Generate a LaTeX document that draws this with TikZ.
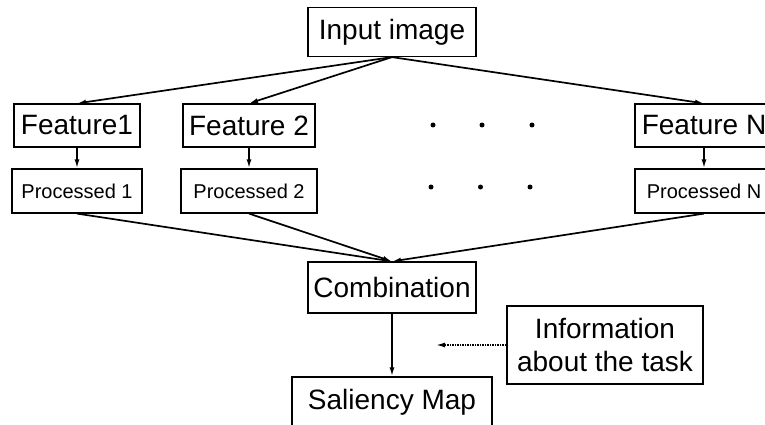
\documentclass[tikz,border=0pt]{standalone}
\usepackage{fontspec}
\setmainfont{Liberation Sans}
\usetikzlibrary{arrows.meta}
\begin{document}
\begin{tikzpicture}[x=1pt,y=-1pt,
  box/.style={draw,line width=1.2pt,inner sep=0pt,align=center,font=\fontsize{28}{33}\selectfont},
  small/.style={draw,line width=1.2pt,inner sep=0pt,align=center,font=\fontsize{20}{24}\selectfont},
  arr/.style={line width=1.7pt,-{Latex[length=9pt,width=5pt]}},
  darr/.style={line width=1.5pt,densely dotted,-{Latex[length=9pt,width=5pt]}},
  dot/.style={circle,fill,inner sep=0pt,minimum size=5pt}]
\useasboundingbox (0,0) rectangle (765,425);
\clip (0,0) rectangle (765,425);
\node[box,minimum width=168pt,minimum height=49pt] (in) at (392,32) {Input image};
\node[box,minimum width=126pt,minimum height=43pt] (f1) at (77,125.5) {Feature1};
\node[box,minimum width=132pt,minimum height=43pt] (f2) at (249,125.5) {Feature 2};
\node[box,minimum width=138pt,minimum height=43pt] (fn) at (704,125.5) {Feature N};
\node[small,minimum width=130pt,minimum height=44pt] (p1) at (77,191) {Processed 1};
\node[small,minimum width=136pt,minimum height=44pt] (p2) at (249,191) {Processed 2};
\node[small,minimum width=138pt,minimum height=44pt] (pn) at (704,191) {Processed N};
\node[box,minimum width=168pt,minimum height=51pt] (co) at (392,287.5) {Combination};
\node[box,minimum width=200pt,minimum height=51pt] (sm) at (392,402.5) {Saliency Map};
\node[box,minimum width=196pt,minimum height=78pt] (info) at (605,345) {Information\\about the task};
\coordinate (infoend) at (436,345);
\foreach \x/\n in {433/a,482/b,532/c}{
  \node[dot] (d1\n) at (\x,125) {};
}
\foreach \x/\n in {431/a,480.5/b,530/c}{
  \node[dot] (d2\n) at (\x,187) {};
}
\draw[arr] (in.south) -- (f1.north);
\draw[arr] (in.south) -- (f2.north);
\draw[arr] (in.south) -- (fn.north);
\draw[arr] (f1) -- (p1);
\draw[arr] (f2) -- (p2);
\draw[arr] (fn) -- (pn);
\draw[arr] (p1.south) -- (co.north);
\draw[arr] (p2.south) -- (co.north);
\draw[arr] (pn.south) -- (co.north);
\draw[arr] (co) -- (sm);
\draw[darr] (info.west) -- (infoend);
\end{tikzpicture}
\end{document}
